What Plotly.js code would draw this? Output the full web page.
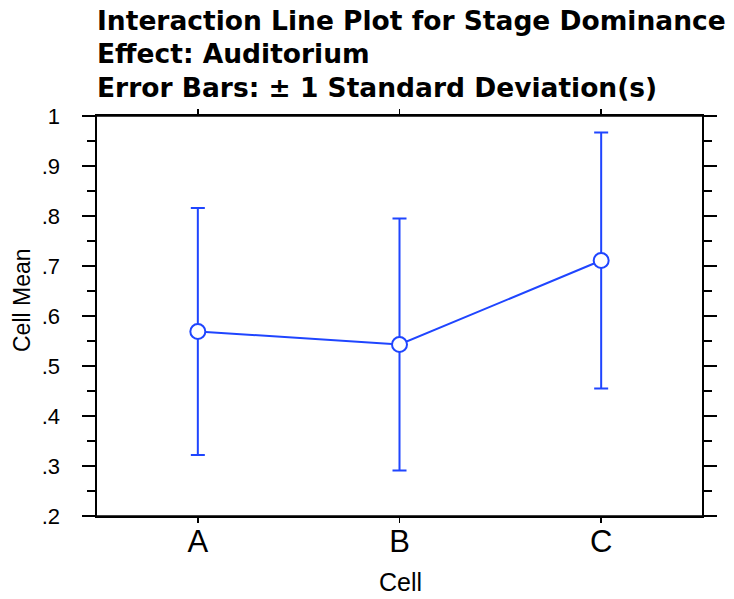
<!DOCTYPE html>
<html>
<head>
<meta charset="utf-8">
<script src="https://cdn.plot.ly/plotly-3.0.1.min.js"></script>
<style>html,body{margin:0;padding:0;background:#fff;}#chart{width:734px;height:599px;}</style>
</head>
<body>
<div id="chart"></div>
<script>
const cells = ['A', 'B', 'C'];
const cellMeans = [0.569, 0.543, 0.711];
const cellSDs = [0.247, 0.252, 0.256];
const yTickVals = [0.2, 0.3, 0.4, 0.5, 0.6, 0.7, 0.8, 0.9, 1];
const yTickText = ['.2', '.3', '.4', '.5', '.6', '.7', '.8', '.9', '1'];
const titleLines = ['Interaction Line Plot for Stage Dominance', 'Effect: Auditorium', 'Error Bars: \u00b1 1 Standard Deviation(s)'];

const blue = '#1f45ff';
const W = 734, H = 599;
const M = {l: 97, r: 32, t: 116, b: 83};
const pw = W - M.l - M.r, ph = H - M.t - M.b;
const px2x = p => (p - M.l) / pw;
const px2y = p => (H - M.b - p) / ph;

const trace = {
  x: cells, y: cellMeans, type: 'scatter', mode: 'lines+markers',
  line: {color: blue, width: 2},
  marker: {symbol: 'circle', size: 15, color: '#fff', line: {color: blue, width: 2}},
  error_y: {type: 'data', array: cellSDs, visible: true, color: blue, thickness: 2, width: 7},
  hoverinfo: 'skip'
};

const titleFont = {family: 'DejaVu Sans', size: 26.5, color: '#000', weight: 'bold'};
const titleY = [21, 54, 87];
const annotations = titleLines.map((t, i) => ({
  text: '<b>' + t + '</b>', xref: 'paper', yref: 'paper', x: px2x(95), y: px2y(titleY[i]),
  xanchor: 'left', yanchor: 'middle', showarrow: false, font: titleFont
}));
annotations.push({text: 'Cell Mean', xref: 'paper', yref: 'paper', x: px2x(22), y: px2y(300),
  xanchor: 'center', yanchor: 'middle', textangle: -90, showarrow: false,
  font: {family: 'Liberation Sans', size: 23, color: '#000'}});
annotations.push({text: 'Cell', xref: 'paper', yref: 'paper', x: px2x(400), y: px2y(582),
  xanchor: 'center', yanchor: 'middle', showarrow: false,
  font: {family: 'Liberation Sans', size: 25, color: '#000'}});

const ext = 13 / pw;
const lw = 1.6;
const shapes = [
  {type: 'line', xref: 'paper', yref: 'paper', x0: -ext, x1: 1 + ext, y0: 1, y1: 1, line: {color: '#000', width: lw}, layer: 'above'},
  {type: 'line', xref: 'paper', yref: 'paper', x0: -ext, x1: 1 + ext, y0: 0, y1: 0, line: {color: '#000', width: lw}, layer: 'above'}
];

const layout = {
  width: W, height: H, margin: M,
  paper_bgcolor: '#fff', plot_bgcolor: '#fff',
  showlegend: false,
  font: {family: 'Liberation Sans', color: '#000'},
  xaxis: {
    type: 'category', range: [-0.5, 2.5], showgrid: false, zeroline: false,
    showline: true, linecolor: '#000', linewidth: lw, mirror: 'ticks',
    ticks: 'outside', ticklen: 5, tickwidth: 1.6, tickcolor: '#000',
    tickfont: {family: 'Liberation Sans', size: 31, color: '#000'}, ticklabelstandoff: -8
  },
  yaxis: {
    range: [0.2, 1], showgrid: false, zeroline: false,
    showline: true, linecolor: '#000', linewidth: lw, mirror: 'ticks',
    ticks: 'outside', ticklen: 13, tickwidth: 1.6, tickcolor: '#000',
    tickvals: yTickVals, ticktext: yTickText,
    tickfont: {family: 'Liberation Sans', size: 22, color: '#000'}, ticklabelstandoff: 18,
    minor: {dtick: 0.05, tick0: 0.2, ticks: 'outside', ticklen: 8, tickwidth: 1.6, tickcolor: '#000', showgrid: false}
  },
  annotations: annotations,
  shapes: shapes
};

Plotly.newPlot('chart', [trace], layout, {staticPlot: true, displayModeBar: false});
</script>
</body>
</html>
